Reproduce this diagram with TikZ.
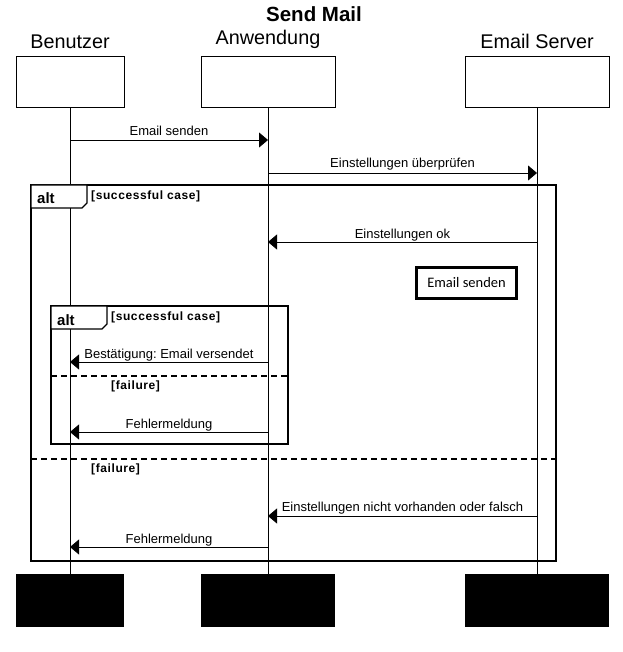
\documentclass[tikz,border=0pt]{standalone}
\usepackage{fontspec}
\setmainfont{Liberation Sans}
\newfontfamily\carl{Carlito}
\newfontfamily\guardfont[LetterSpace=5]{Liberation Sans}
\usetikzlibrary{arrows.meta}
\frenchspacing
\begin{document}
\begin{tikzpicture}[x=1pt,y=-1pt,
 actor/.style={draw,line width=0.8pt,minimum width=#1,minimum height=51pt,inner sep=0pt},
 endbox/.style={fill=black,minimum width=#1,minimum height=53pt,inner sep=0pt},
 lifeline/.style={line width=0.8pt},
 msg/.style={line width=0.8pt,-{Triangle[length=9pt,width=15pt]}},
 lbl/.style={font=\frenchspacing\fontsize{13}{15}\selectfont,inner sep=0pt,anchor=base},
 frame/.style={line width=1.6pt},
 sep/.style={line width=1.6pt,dash pattern=on 6pt off 4pt},
 guard/.style={font=\guardfont\bfseries\fontsize{12}{14}\selectfont,anchor=base west,inner sep=0pt},
 tab/.style={draw,fill=white,line width=1.2pt},
 altlbl/.style={font=\bfseries\fontsize{15}{16}\selectfont,anchor=base west,inner sep=0pt},
 actlbl/.style={font=\fontsize{19.8}{22}\selectfont,inner sep=0pt,anchor=base},
 notebox/.style={draw,line width=3pt,minimum width=100pt,minimum height=31pt,inner sep=0pt,font=\carl\fontsize{14.5}{16}\selectfont}
]
\path[use as bounding box] (0,0) rectangle (622,652);

% title and actor names
\node[font=\bfseries\fontsize{20.5}{23}\selectfont,inner sep=0pt,anchor=base] (title) at (314,22) {Send Mail};
\node[actlbl] (nU) at (70,49) {Benutzer};
\node[actlbl] (nA) at (268,45) {Anwendung};
\node[actlbl] (nE) at (537,49) {Email Server};

% actor boxes
\node[actor=108pt] (U) at (70,81.5) {};
\node[actor=134pt] (A) at (268,81.5) {};
\node[actor=144pt] (E) at (537,81.5) {};
\node[endbox=108pt] (Ub) at (70,600.5) {};
\node[endbox=134pt] (Ab) at (268,600.5) {};
\node[endbox=144pt] (Eb) at (537,600.5) {};

% lifelines
\draw[lifeline] (U.south) -- (Ub.north);
\draw[lifeline] (A.south) -- (Ab.north);
\draw[lifeline] (E.south) -- (Eb.north);

% message end points
\coordinate (m1s) at (70,140);  \coordinate (m1e) at (268,140);
\coordinate (m2s) at (268,173); \coordinate (m2e) at (537,173);
\coordinate (m3s) at (537,242); \coordinate (m3e) at (268,242);
\coordinate (m4s) at (268,362); \coordinate (m4e) at (70,362);
\coordinate (m5s) at (268,432); \coordinate (m5e) at (70,432);
\coordinate (m6s) at (537,516); \coordinate (m6e) at (268,516);
\coordinate (m7s) at (268,547); \coordinate (m7e) at (70,547);

% outer frame
\coordinate (o1) at (31,185); \coordinate (o2) at (556,561);
\draw[frame] (o1) rectangle (o2);
\coordinate (os1) at (31,459); \coordinate (os2) at (556,459);
\draw[sep] (os1) -- (os2);
\draw[tab] (31,185) -- (87,185) -- (87,203) -- (82,208) -- (31,208) -- cycle;
\node[altlbl] (oalt) at (37,204) {alt};
\node[guard] (og1) at (91,200) {[successful case]};
\node[guard] (og2) at (91,472) {[failure]};

% inner frame
\coordinate (i1) at (51,306); \coordinate (i2) at (288,444);
\draw[frame,fill=none] (i1) rectangle (i2);
\coordinate (is1) at (51,376); \coordinate (is2) at (288,376);
\draw[sep] (is1) -- (is2);
\draw[tab] (51,306) -- (107,306) -- (107,324) -- (102,329) -- (51,329) -- cycle;
\node[altlbl] (ialt) at (57,325) {alt};
\node[guard] (ig1) at (111,320) {[successful case]};
\node[guard] (ig2) at (111,389) {[failure]};

% messages
\draw[msg] (m1s) -- (m1e);
\node[lbl] (l1) at (169,136) {Email senden};
\draw[msg] (m2s) -- (m2e);
\node[lbl] (l2) at (402.5,168) {Einstellungen überprüfen};
\draw[msg] (m3s) -- (m3e);
\node[lbl] (l3) at (402.5,238) {Einstellungen ok};
\draw[msg] (m4s) -- (m4e);
\node[lbl] (l4) at (169,358) {Bestätigung: Email versendet};
\draw[msg] (m5s) -- (m5e);
\node[lbl] (l5) at (169,428) {Fehlermeldung};
\draw[msg] (m6s) -- (m6e);
\node[lbl] (l6) at (402.5,511) {Einstellungen nicht vorhanden oder falsch};
\draw[msg] (m7s) -- (m7e);
\node[lbl] (l7) at (169,543) {Fehlermeldung};

% note box
\node[notebox] (note) at (466.5,283) {Email senden};
\end{tikzpicture}
\end{document}
